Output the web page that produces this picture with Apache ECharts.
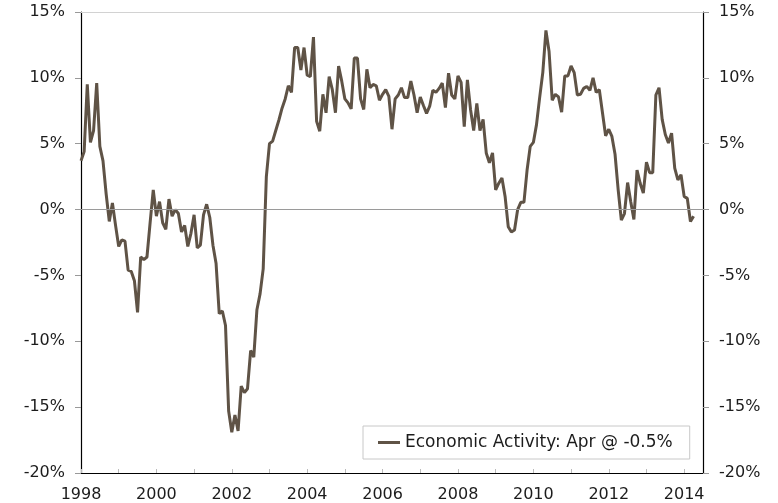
<!DOCTYPE html>
<html>
<head>
<meta charset="utf-8">
<script src="https://cdn.jsdelivr.net/npm/echarts@6/dist/echarts.min.js"></script>
<style>
  html, body { margin: 0; padding: 0; background: #fff; }
  #chart { width: 778px; height: 503px; }
</style>
</head>
<body>
<div id="chart"></div>
<script>
// monthly, Jan 1998 .. Apr 2014, % y/y
let activity = [
  3.7, 4.4, 9.5, 5.1, 6.0, 9.6, 4.8, 3.7, 1.2, -0.9, 0.5, -1.2,
  -2.8, -2.3, -2.4, -4.6, -4.7, -5.4, -7.8, -3.6, -3.8, -3.6, -1.0, 1.5,
  -0.5, 0.6, -1.0, -1.5, 0.8, -0.5, 0.0, -0.3, -1.7, -1.2, -2.8, -1.8,
  -0.4, -2.9, -2.7, -0.4, 0.4, -0.6, -2.7, -4.1, -7.9, -7.7, -8.8, -15.3,
  -16.9, -15.6, -16.8, -13.4, -13.9, -13.6, -10.7, -11.2, -7.6, -6.4, -4.5, 2.5,
  5.0, 5.2, 6.0, 6.8, 7.7, 8.4, 9.4, 8.9, 12.3, 12.3, 10.6, 12.3,
  10.2, 10.1, 13.1, 6.7, 5.95, 8.75, 7.35, 10.1, 9.1, 7.35, 10.9, 9.75,
  8.4, 8.1, 7.65, 11.5, 11.5, 8.4, 7.6, 10.65, 9.25, 9.5, 9.4, 8.3,
  8.75, 9.1, 8.6, 6.1, 8.4, 8.7, 9.25, 8.5, 8.5, 9.75, 8.7, 7.35,
  8.55, 7.9, 7.3, 7.85, 9.05, 8.9, 9.2, 9.6, 7.75, 10.35, 8.7, 8.4,
  10.15, 9.65, 6.3, 9.85, 7.6, 6.0, 8.05, 6.0, 6.85, 4.3, 3.55, 4.3,
  1.5, 2.0, 2.4, 1.0, -1.3, -1.7, -1.55, 0.0, 0.55, 0.55, 3.0, 4.8,
  5.1, 6.45, 8.5, 10.4, 13.6, 12.0, 8.3, 8.75, 8.55, 7.4, 10.15, 10.15,
  10.9, 10.4, 8.7, 8.75, 9.2, 9.35, 9.05, 10.0, 8.9, 9.1, 7.35, 5.6,
  6.1, 5.55, 4.2, 1.5, -0.8, -0.3, 2.05, 0.6, -0.75, 3.0, 2.0, 1.25,
  3.6, 2.8, 2.8, 8.7, 9.25, 6.85, 5.7, 5.05, 5.8, 3.15, 2.25, 2.65,
  1.0, 0.85, -0.9, -0.5
]
let yearLabels = ['1998', '2000', '2002', '2004', '2006', '2008', '2010', '2012', '2014']
let yTicks = [-20, -15, -10, -5, 0, 5, 10, 15]
let seriesName = 'Economic Activity: Apr @ -0.5%'

// axis runs Jan 1998 .. Jul 2014
let months = []
for (let i = 0; i < 199; i++) {
  let y = 1998 + Math.floor(i / 12)
  months.push(y + '-' + String(i % 12 + 1).padStart(2, '0'))
}

let font = 'DejaVu Sans, Verdana, sans-serif'
let txt = '#1c1c1c'

let yAxisBase = (pos) => ({
  type: 'value',
  position: pos,
  min: yTicks[0],
  max: yTicks[yTicks.length - 1],
  interval: 5,
  axisLine: { show: true, lineStyle: { color: '#000', width: 1.2 } },
  axisTick: { show: true, length: 6, lineStyle: { color: '#999' } },
  axisLabel: {
    show: true, margin: 16,
    formatter: '{value}%',
    fontFamily: font, fontSize: 16, color: txt
  },
  splitLine: { show: false }
})

let myChart = echarts.init(document.getElementById('chart'), null, { renderer: 'canvas' })
let option = {
  animation: false,
  backgroundColor: '#fff',
  grid: { left: 81, right: 75, top: 12, bottom: 30 },
  legend: {
    left: 363,
    top: 426,
    padding: [8, 17, 8, 15],
    borderColor: '#c8c8c8',
    borderWidth: 1,
    backgroundColor: '#fff',
    icon: 'rect',
    itemWidth: 22,
    itemHeight: 3,
    textStyle: { fontFamily: font, fontSize: 17, color: txt },
    data: [seriesName]
  },
  xAxis: {
    type: 'category',
    boundaryGap: false,
    data: months,
    axisLine: { show: true, onZero: false, lineStyle: { color: '#000', width: 1.2 } },
    axisTick: {
      show: true, inside: true, length: 4,
      interval: (idx) => idx % 12 === 0,
      lineStyle: { color: '#bbb' }
    },
    axisLabel: {
      margin: 14,
      interval: 0,
      fontFamily: font, fontSize: 16, color: txt,
      formatter: (val, idx) => {
        let y = val.slice(0, 4)
        return (idx % 12 === 0 && yearLabels.includes(y)) ? y : ''
      }
    },
    splitLine: { show: false }
  },
  yAxis: [yAxisBase('left'), yAxisBase('right')],
  series: [{
    name: seriesName,
    type: 'line',
    data: activity,
    symbol: 'none',
    smooth: false,
    lineStyle: { color: '#5f5346', width: 3 },
    itemStyle: { color: '#5f5346' },
    z: 3,
    markLine: {
      silent: true,
      symbol: 'none',
      label: { show: false },
      animation: false,
      data: [
        { yAxis: 0, lineStyle: { color: '#9a9a9a', width: 1.2, type: 'solid' } },
        { yAxis: 15, lineStyle: { color: '#d2d2d2', width: 1.2, type: 'solid' } }
      ]
    }
  }]
}
myChart.setOption(option)
</script>
</body>
</html>
